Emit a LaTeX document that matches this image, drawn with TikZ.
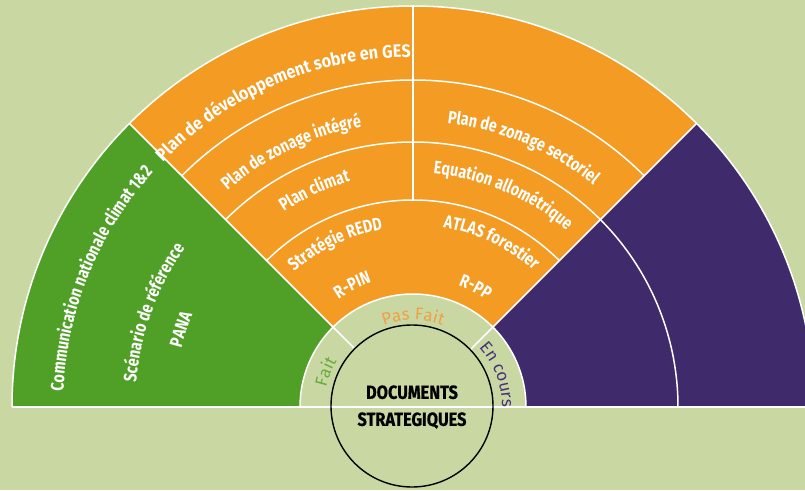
\documentclass[tikz,border=0pt]{standalone}
\usepackage{fontspec}
\usetikzlibrary{decorations.text}
\newfontfamily\lblfont[FakeStretch=0.8]{Fira Sans}
\newfontfamily\lblwidefont[FakeStretch=0.9]{Fira Sans}
\newfontfamily\docfont[FakeStretch=0.86,FakeBold=0.6]{Fira Sans}
\newfontfamily\ringfont{Fira Sans}
\definecolor{bgGreen}{RGB}{201,216,162}
\definecolor{faitGreen}{RGB}{80,160,40}
\definecolor{pasOrange}{RGB}{243,155,34}
\definecolor{coursPurple}{RGB}{63,42,107}
\definecolor{faitText}{RGB}{104,172,62}
\definecolor{pasText}{RGB}{240,160,70}
\definecolor{coursText}{RGB}{72,52,120}
\newcommand\wlbl{\lblfont\bfseries\fontsize{18}{20}\selectfont\color{white}}
\newcommand\wlblwide{\lblwidefont\bfseries\fontsize{18}{20}\selectfont\color{white}}
\newcommand\rlbl{\ringfont\fontsize{17}{20}\selectfont}
\begin{document}
\begin{tikzpicture}[x=1pt,y=1pt,
sep/.style={draw=white,line width=1.5pt},
arclabel/.style={decorate,decoration={text along path,text align=center,text format delimiters={|}{|}}}]
\useasboundingbox (-413,-83) rectangle (392,407);
\clip (-413,-83) rectangle (392,407);
\fill[bgGreen] (-413,-83) rectangle (392,407);

% sectors
\fill[faitGreen] (0,0) -- (180:401) arc[start angle=180,end angle=135,radius=401] -- cycle;
\fill[pasOrange] (0,0) -- (135:401) arc[start angle=135,end angle=45,radius=401] -- cycle;
\fill[coursPurple] (0,0) -- (45:401) arc[start angle=45,end angle=0,radius=401] -- cycle;
\fill[bgGreen] (0,0) -- (180:113) arc[start angle=180,end angle=0,radius=113] -- cycle;

% white separators
\draw[sep] (180:401) arc[start angle=180,end angle=0,radius=401];
\draw[sep] (180:113) arc[start angle=180,end angle=0,radius=113];
\draw[sep] (135:327) arc[start angle=135,end angle=45,radius=327];
\draw[sep] (135:265) arc[start angle=135,end angle=0,radius=265];
\draw[sep] (135:207) arc[start angle=135,end angle=45,radius=207];
\draw[sep] (90:207) -- (90:401);
\draw[sep] (135:82) -- (135:401);
\draw[sep] (45:82) -- (45:401);
\draw[sep] (-401,0) -- (392,0);

% centre
\draw[line width=1.4pt] (-1,1) circle[radius=81];
\node[font=\docfont\bfseries\fontsize{19}{27}\selectfont,align=center] (docs) at (-1,0) {DOCUMENTS\\STRATEGIQUES};

% fait
\path[arclabel,decoration={text={|\wlbl|Communication nationale climat 1{\&}2}}] (217.7:350) arc[start angle=217.7,end angle=97.7,radius=350];
\path[arclabel,decoration={text={|\wlbl|Scénario de référence}}] (220:278) arc[start angle=220,end angle=100,radius=278];
\path[arclabel,decoration={text={|\wlbl|PANA}}] (221.5:239) arc[start angle=221.5,end angle=101.5,radius=239];

% pas fait
\path[arclabel,decoration={text={|\wlblwide|Plan de développement sobre en GES}}] (173:350) arc[start angle=173,end angle=53,radius=350];
\path[arclabel,decoration={text={|\wlbl|Plan de zonage intégré}}] (175.5:285) arc[start angle=175.5,end angle=55.5,radius=285];
\path[arclabel,decoration={text={|\wlbl|Plan climat}}] (174.5:234) arc[start angle=174.5,end angle=54.5,radius=234];
\path[arclabel,decoration={text={|\wlbl|Stratégie REDD}}] (175.5:180) arc[start angle=175.5,end angle=55.5,radius=180];
\path[arclabel,decoration={text={|\wlbl|R-PIN}}] (166.5:131) arc[start angle=166.5,end angle=66.5,radius=131];
\path[arclabel,decoration={text={|\wlbl|Plan de  zonage sectoriel}}] (127:286) arc[start angle=127,end angle=7,radius=286];
\path[arclabel,decoration={text={|\wlbl|Equation allométrique}}] (127:234) arc[start angle=127,end angle=7,radius=234];
\path[arclabel,decoration={text={|\wlbl|ATLAS forestier}}] (124.5:182) arc[start angle=124.5,end angle=4.5,radius=182];
\path[arclabel,decoration={text={|\wlbl|R-PP}}] (112.5:130) arc[start angle=112.5,end angle=12.5,radius=130];

% ring
\path[arclabel,decoration={text={|\rlbl\color{faitText}|Fait}}] (218:89) arc[start angle=218,end angle=98,radius=89];
\path[arclabel,decoration={text={|\rlbl\color{pasText}|Pas Fait}}] (150:87) arc[start angle=150,end angle=30,radius=87];
\path[arclabel,decoration={text={|\rlbl\color{coursText}|En cours}}] (81:89) arc[start angle=81,end angle=-39,radius=89];
\end{tikzpicture}
\end{document}
